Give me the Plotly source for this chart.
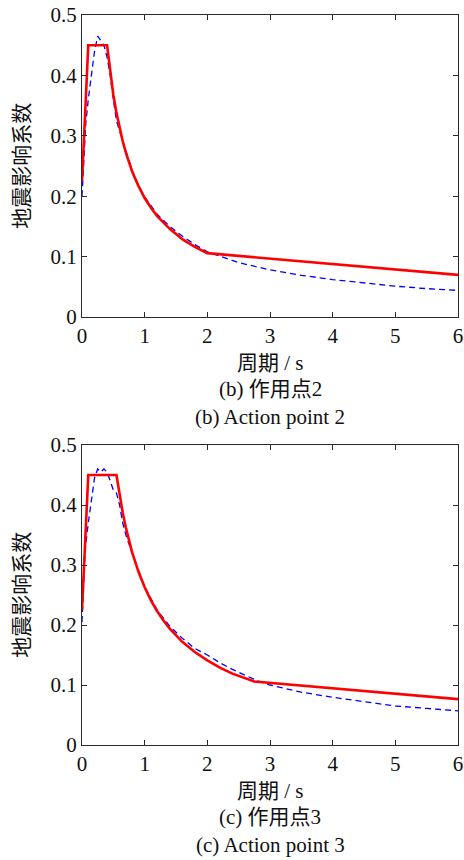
import plotly.graph_objects as go

# Periods (s) and seismic influence coefficients
# (b) Action point 2
t_code_b = [0.0, 0.1, 0.4, 0.45, 0.5, 0.55, 0.6, 0.65, 0.7, 0.75, 0.8, 0.9, 1.0, 1.1, 1.2, 1.4, 1.6, 1.8, 2.0, 6.0]
a_code_b = [0.225, 0.45, 0.45, 0.405, 0.368, 0.338, 0.312, 0.291, 0.272, 0.256, 0.241, 0.217, 0.197, 0.181, 0.167, 0.146, 0.129, 0.116, 0.1057, 0.0697]

t_rec_b = [0.0, 0.03, 0.06, 0.1, 0.15, 0.2, 0.25, 0.3, 0.35, 0.4, 0.45, 0.5, 0.55, 0.6, 0.7, 0.8, 0.9, 1.0,
           1.2, 1.4, 1.6, 1.8, 2.0, 2.5, 3.0, 3.5, 4.0, 4.5, 5.0, 5.5, 6.0]
a_rec_b = [0.200, 0.260, 0.320, 0.360, 0.400, 0.440, 0.465, 0.458, 0.450, 0.430, 0.400, 0.360, 0.325, 0.308, 0.275, 0.243, 0.218, 0.199,
           0.170, 0.150, 0.134, 0.120, 0.108, 0.090, 0.078, 0.069, 0.062, 0.056, 0.051, 0.047, 0.044]

# (c) Action point 3
t_code_c = [0.0, 0.1, 0.55, 0.6, 0.65, 0.7, 0.75, 0.8, 0.9, 1.0, 1.1, 1.2, 1.3, 1.4, 1.6, 1.8, 2.0, 2.2, 2.4, 2.6, 2.75, 6.0]
a_code_c = [0.225, 0.45, 0.45, 0.416, 0.387, 0.362, 0.340, 0.321, 0.289, 0.263, 0.241, 0.223, 0.2075, 0.194, 0.172, 0.155, 0.141, 0.129, 0.119, 0.111, 0.1057, 0.0764]

t_rec_c = [0.0, 0.05, 0.1, 0.15, 0.2, 0.25, 0.3, 0.35, 0.4, 0.45, 0.5, 0.55, 0.6, 0.65, 0.7, 0.8, 0.9, 1.0,
           1.2, 1.4, 1.6, 1.8, 2.0, 2.2, 2.4, 2.6, 2.8, 3.0, 3.5, 4.0, 4.5, 5.0, 5.5, 6.0]
a_rec_c = [0.205, 0.325, 0.370, 0.405, 0.445, 0.460, 0.455, 0.460, 0.455, 0.440, 0.425, 0.420, 0.400, 0.370, 0.350, 0.320, 0.290, 0.263,
           0.225, 0.198, 0.178, 0.161, 0.150, 0.137, 0.126, 0.116, 0.107, 0.100, 0.088, 0.0795, 0.072, 0.065, 0.061, 0.057]

x_ticks = [0, 1, 2, 3, 4, 5, 6]
y_ticks = [0, 0.1, 0.2, 0.3, 0.4, 0.5]
y_tick_text = ["0", "0.1", "0.2", "0.3", "0.4", "0.5"]

x_title = "周期 / s"
y_title = "地震影响系数"
captions_b = ["(b) 作用点2", "(b) Action point 2"]
captions_c = ["(c) 作用点3", "(c) Action point 3"]

FONT = "Liberation Serif, Times New Roman, Noto Sans CJK SC, serif"
FS = 21
AXC = "#2a2a2a"
RED = "#ff0000"
BLUE = "#0000ff"

W, H = 464, 860
ML, MR, MT, MB = 82, 6, 15, 115
PH = H - MT - MB


def fy(py):
    """paper fraction for a pixel row"""
    return (H - MB - py) / PH


fig = go.Figure()

panels = [
    ("x", "y", t_rec_b, a_rec_b, t_code_b, a_code_b),
    ("x2", "y2", t_rec_c, a_rec_c, t_code_c, a_code_c),
]
for xa, ya, tr, ar, tc, ac in panels:
    fig.add_trace(go.Scatter(x=tr, y=ar, mode="lines", xaxis=xa, yaxis=ya,
                             line=dict(color=BLUE, width=1.3, dash="6px,4px"),
                             showlegend=False))
    fig.add_trace(go.Scatter(x=tc, y=ac, mode="lines", xaxis=xa, yaxis=ya,
                             line=dict(color=RED, width=2.6),
                             showlegend=False))

xcommon = dict(range=[0, 6], tickvals=x_ticks, ticks="inside", ticklen=5,
               tickcolor=AXC, showline=True, linecolor=AXC, linewidth=1.2,
               mirror="ticks", showgrid=False, zeroline=False, automargin=False,
               tickfont=dict(family=FONT, size=FS, color="#111"))
ycommon = dict(range=[0, 0.5], tickvals=y_ticks, ticktext=y_tick_text,
               ticks="inside", ticklen=5, tickcolor=AXC, showline=True,
               linecolor=AXC, linewidth=1.2, mirror="ticks", showgrid=False,
               zeroline=False, automargin=False,
               tickfont=dict(family=FONT, size=FS, color="#111"))

fig.update_layout(
    width=W, height=H,
    margin=dict(l=ML, r=MR, t=MT, b=MB, autoexpand=False),
    paper_bgcolor="white", plot_bgcolor="white",
    xaxis=dict(domain=[0, 1], anchor="y", **xcommon),
    yaxis=dict(domain=[fy(317), 1], anchor="x", **ycommon),
    xaxis2=dict(domain=[0, 1], anchor="y2", **xcommon),
    yaxis2=dict(domain=[0, fy(445)], anchor="x2", **ycommon),
)

ann = []
for top, bottom, caps in [(15, 317, captions_b), (445, 745, captions_c)]:
    ann.append(dict(text=y_title, x=-0.16, y=fy((top + bottom) / 2), xref="paper", yref="paper",
                    textangle=-90, showarrow=False, xanchor="center", yanchor="middle",
                    font=dict(family=FONT, size=FS, color="#111")))
    for dy, txt in zip([46, 72, 100], [x_title] + caps):
        ann.append(dict(text=txt, x=0.5, y=fy(bottom + dy), xref="paper", yref="paper",
                        showarrow=False, xanchor="center", yanchor="middle",
                        font=dict(family=FONT, size=FS, color="#111")))
fig.update_layout(annotations=ann)

fig.write_html("out.html")
